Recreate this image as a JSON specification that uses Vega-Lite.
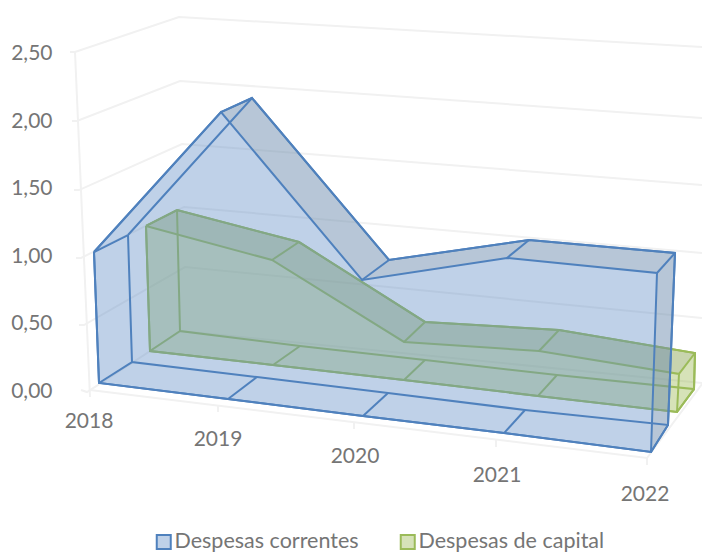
{"$schema":"https://vega.github.io/schema/vega-lite/v6.json","width":632,"height":554,"autosize":{"type":"none"},"padding":{"left":70,"top":0,"right":0,"bottom":0},"background":"white","config":{"view":{"stroke":null},"font":"Lato"},
"datasets":{
"points":[
{"id":"BFT0","x":2018.0,"y":1.022},{"id":"BFT1","x":2019.016,"y":2.059},{"id":"BFT2","x":2020.144,"y":0.815},{"id":"BFT3","x":2021.304,"y":0.978},{"id":"BFT4","x":2022.504,"y":0.867},
{"id":"BFB0","x":2018.04,"y":0.052},{"id":"BFB1","x":2019.072,"y":-0.067},{"id":"BFB2","x":2020.152,"y":-0.193},{"id":"BFB3","x":2021.28,"y":-0.319},{"id":"BFB4","x":2022.456,"y":-0.459},
{"id":"BBT0","x":2018.272,"y":1.148},{"id":"BBT1","x":2019.264,"y":2.163},{"id":"BBT2","x":2020.36,"y":0.963},{"id":"BBT3","x":2021.48,"y":1.111},{"id":"BBT4","x":2022.648,"y":1.015},
{"id":"BBB0","x":2018.304,"y":0.207},{"id":"BBB1","x":2019.304,"y":0.096},{"id":"BBB2","x":2020.352,"y":-0.022},{"id":"BBB3","x":2021.448,"y":-0.148},{"id":"BBB4","x":2022.592,"y":-0.259},
{"id":"GFT0","x":2018.416,"y":1.215},{"id":"GFT1","x":2019.424,"y":0.963},{"id":"GFT2","x":2020.48,"y":0.356},{"id":"GFT3","x":2021.56,"y":0.289},{"id":"GFT4","x":2022.68,"y":0.119},
{"id":"GFB0","x":2018.448,"y":0.289},{"id":"GFB1","x":2019.432,"y":0.185},{"id":"GFB2","x":2020.48,"y":0.074},{"id":"GFB3","x":2021.552,"y":-0.044},{"id":"GFB4","x":2022.664,"y":-0.163},
{"id":"GBT0","x":2018.664,"y":1.333},{"id":"GBT1","x":2019.64,"y":1.096},{"id":"GBT2","x":2020.648,"y":0.504},{"id":"GBT3","x":2021.72,"y":0.444},{"id":"GBT4","x":2022.808,"y":0.274},
{"id":"GBB0","x":2018.688,"y":0.437},{"id":"GBB1","x":2019.648,"y":0.326},{"id":"GBB2","x":2020.648,"y":0.222},{"id":"GBB3","x":2021.704,"y":0.111},{"id":"GBB4","x":2022.8,"y":0.007}
],
"grid":[
{"path":"g25","i":0,"x":2017.808,"y":2.504},{"path":"g25","i":1,"x":2017.848,"y":2.504},{"path":"g25","i":2,"x":2018.68,"y":2.763},{"path":"g25","i":3,"x":2022.864,"y":2.541},
{"path":"g20","i":0,"x":2017.824,"y":1.993},{"path":"g20","i":1,"x":2017.864,"y":1.993},{"path":"g20","i":2,"x":2018.688,"y":2.289},{"path":"g20","i":3,"x":2022.864,"y":2.015},
{"path":"g15","i":0,"x":2017.84,"y":1.481},{"path":"g15","i":1,"x":2017.88,"y":1.481},{"path":"g15","i":2,"x":2018.704,"y":1.822},{"path":"g15","i":3,"x":2022.864,"y":1.519},
{"path":"g10","i":0,"x":2017.856,"y":0.978},{"path":"g10","i":1,"x":2017.896,"y":0.978},{"path":"g10","i":2,"x":2018.72,"y":1.356},{"path":"g10","i":3,"x":2022.864,"y":1.015},
{"path":"g05","i":0,"x":2017.88,"y":0.481},{"path":"g05","i":1,"x":2017.92,"y":0.481},{"path":"g05","i":2,"x":2018.728,"y":0.911},{"path":"g05","i":3,"x":2022.864,"y":0.533},
{"path":"g00","i":0,"x":2017.896,"y":0.0},{"path":"g00","i":1,"x":2017.944,"y":-0.015},{"path":"g00","i":2,"x":2018.696,"y":0.437},{"path":"g00","i":3,"x":2022.864,"y":0.052},
{"path":"wall","i":0,"x":2017.848,"y":2.504},{"path":"wall","i":1,"x":2017.968,"y":-0.052},
{"path":"floor","i":0,"x":2017.968,"y":0.0},{"path":"floor","i":1,"x":2022.424,"y":-0.504},{"path":"floor","i":2,"x":2022.864,"y":0.044},
{"path":"t19","i":0,"x":2018.992,"y":-0.111},{"path":"t19","i":1,"x":2018.992,"y":-0.163},
{"path":"t20","i":0,"x":2020.08,"y":-0.237},{"path":"t20","i":1,"x":2020.08,"y":-0.289},
{"path":"t21","i":0,"x":2021.216,"y":-0.37},{"path":"t21","i":1,"x":2021.216,"y":-0.422},
{"path":"t22","i":0,"x":2022.424,"y":-0.504},{"path":"t22","i":1,"x":2022.424,"y":-0.556}
],
"years":[
{"label":"2018","x":2017.96,"y":-0.24},{"label":"2019","x":2018.992,"y":-0.37},{"label":"2020","x":2020.088,"y":-0.496},{"label":"2021","x":2021.224,"y":-0.637},{"label":"2022","x":2022.408,"y":-0.778}
],
"paths":[
{"series":"Despesas de capital","kind":"sil","path":"gs","i":0,"id":"GFT0"},{"series":"Despesas de capital","kind":"sil","path":"gs","i":1,"id":"GBT0"},{"series":"Despesas de capital","kind":"sil","path":"gs","i":2,"id":"GBT1"},{"series":"Despesas de capital","kind":"sil","path":"gs","i":3,"id":"GBT2"},{"series":"Despesas de capital","kind":"sil","path":"gs","i":4,"id":"GBT3"},{"series":"Despesas de capital","kind":"sil","path":"gs","i":5,"id":"GBT4"},{"series":"Despesas de capital","kind":"sil","path":"gs","i":6,"id":"GBB4"},{"series":"Despesas de capital","kind":"sil","path":"gs","i":7,"id":"GFB4"},{"series":"Despesas de capital","kind":"sil","path":"gs","i":8,"id":"GFB3"},{"series":"Despesas de capital","kind":"sil","path":"gs","i":9,"id":"GFB2"},{"series":"Despesas de capital","kind":"sil","path":"gs","i":10,"id":"GFB1"},{"series":"Despesas de capital","kind":"sil","path":"gs","i":11,"id":"GFB0"},{"series":"Despesas de capital","kind":"sil","path":"gs","i":12,"id":"GFT0"},
{"series":"G","kind":"shade","path":"g1","i":0,"id":"GFT0"},{"series":"G","kind":"shade","path":"g1","i":1,"id":"GBT0"},{"series":"G","kind":"shade","path":"g1","i":2,"id":"GBT1"},{"series":"G","kind":"shade","path":"g1","i":3,"id":"GFT1"},
{"series":"G","kind":"shade","path":"g2","i":0,"id":"GFT1"},{"series":"G","kind":"shade","path":"g2","i":1,"id":"GBT1"},{"series":"G","kind":"shade","path":"g2","i":2,"id":"GBT2"},{"series":"G","kind":"shade","path":"g2","i":3,"id":"GFT2"},
{"series":"G","kind":"shade","path":"g3","i":0,"id":"GFT2"},{"series":"G","kind":"shade","path":"g3","i":1,"id":"GBT2"},{"series":"G","kind":"shade","path":"g3","i":2,"id":"GBT3"},{"series":"G","kind":"shade","path":"g3","i":3,"id":"GFT3"},
{"series":"G","kind":"shade","path":"g4","i":0,"id":"GFT3"},{"series":"G","kind":"shade","path":"g4","i":1,"id":"GBT3"},{"series":"G","kind":"shade","path":"g4","i":2,"id":"GBT4"},{"series":"G","kind":"shade","path":"g4","i":3,"id":"GFT4"},
{"series":"G","kind":"edge","path":"gf","i":0,"id":"GFT0"},{"series":"G","kind":"edge","path":"gf","i":1,"id":"GFT1"},{"series":"G","kind":"edge","path":"gf","i":2,"id":"GFT2"},{"series":"G","kind":"edge","path":"gf","i":3,"id":"GFT3"},{"series":"G","kind":"edge","path":"gf","i":4,"id":"GFT4"},{"series":"G","kind":"edge","path":"gf","i":5,"id":"GFB4"},{"series":"G","kind":"edge","path":"gf","i":6,"id":"GFB3"},{"series":"G","kind":"edge","path":"gf","i":7,"id":"GFB2"},{"series":"G","kind":"edge","path":"gf","i":8,"id":"GFB1"},{"series":"G","kind":"edge","path":"gf","i":9,"id":"GFB0"},{"series":"G","kind":"edge","path":"gf","i":10,"id":"GFT0"},
{"series":"G","kind":"edge","path":"gb","i":0,"id":"GBT0"},{"series":"G","kind":"edge","path":"gb","i":1,"id":"GBT1"},{"series":"G","kind":"edge","path":"gb","i":2,"id":"GBT2"},{"series":"G","kind":"edge","path":"gb","i":3,"id":"GBT3"},{"series":"G","kind":"edge","path":"gb","i":4,"id":"GBT4"},{"series":"G","kind":"edge","path":"gb","i":5,"id":"GBB4"},{"series":"G","kind":"edge","path":"gb","i":6,"id":"GBB3"},{"series":"G","kind":"edge","path":"gb","i":7,"id":"GBB2"},{"series":"G","kind":"edge","path":"gb","i":8,"id":"GBB1"},{"series":"G","kind":"edge","path":"gb","i":9,"id":"GBB0"},{"series":"G","kind":"edge","path":"gb","i":10,"id":"GBT0"},
{"series":"G","kind":"edge","path":"gt0","i":0,"id":"GFT0"},{"series":"G","kind":"edge","path":"gt0","i":1,"id":"GBT0"},{"series":"G","kind":"edge","path":"gt1","i":0,"id":"GFT1"},{"series":"G","kind":"edge","path":"gt1","i":1,"id":"GBT1"},{"series":"G","kind":"edge","path":"gt2","i":0,"id":"GFT2"},{"series":"G","kind":"edge","path":"gt2","i":1,"id":"GBT2"},{"series":"G","kind":"edge","path":"gt3","i":0,"id":"GFT3"},{"series":"G","kind":"edge","path":"gt3","i":1,"id":"GBT3"},{"series":"G","kind":"edge","path":"gt4","i":0,"id":"GFT4"},{"series":"G","kind":"edge","path":"gt4","i":1,"id":"GBT4"},
{"series":"G","kind":"edge","path":"gu0","i":0,"id":"GFB0"},{"series":"G","kind":"edge","path":"gu0","i":1,"id":"GBB0"},{"series":"G","kind":"edge","path":"gu1","i":0,"id":"GFB1"},{"series":"G","kind":"edge","path":"gu1","i":1,"id":"GBB1"},{"series":"G","kind":"edge","path":"gu2","i":0,"id":"GFB2"},{"series":"G","kind":"edge","path":"gu2","i":1,"id":"GBB2"},{"series":"G","kind":"edge","path":"gu3","i":0,"id":"GFB3"},{"series":"G","kind":"edge","path":"gu3","i":1,"id":"GBB3"},{"series":"G","kind":"edge","path":"gu4","i":0,"id":"GFB4"},{"series":"G","kind":"edge","path":"gu4","i":1,"id":"GBB4"},
{"series":"Despesas correntes","kind":"sil","path":"bs","i":0,"id":"BFT0"},{"series":"Despesas correntes","kind":"sil","path":"bs","i":1,"id":"BFT1"},{"series":"Despesas correntes","kind":"sil","path":"bs","i":2,"id":"BBT1"},{"series":"Despesas correntes","kind":"sil","path":"bs","i":3,"id":"BBT2"},{"series":"Despesas correntes","kind":"sil","path":"bs","i":4,"id":"BBT3"},{"series":"Despesas correntes","kind":"sil","path":"bs","i":5,"id":"BBT4"},{"series":"Despesas correntes","kind":"sil","path":"bs","i":6,"id":"BBB4"},{"series":"Despesas correntes","kind":"sil","path":"bs","i":7,"id":"BFB4"},{"series":"Despesas correntes","kind":"sil","path":"bs","i":8,"id":"BFB3"},{"series":"Despesas correntes","kind":"sil","path":"bs","i":9,"id":"BFB2"},{"series":"Despesas correntes","kind":"sil","path":"bs","i":10,"id":"BFB1"},{"series":"Despesas correntes","kind":"sil","path":"bs","i":11,"id":"BFB0"},{"series":"Despesas correntes","kind":"sil","path":"bs","i":12,"id":"BFT0"},
{"series":"B","kind":"shade","path":"b2","i":0,"id":"BFT1"},{"series":"B","kind":"shade","path":"b2","i":1,"id":"BBT1"},{"series":"B","kind":"shade","path":"b2","i":2,"id":"BBT2"},{"series":"B","kind":"shade","path":"b2","i":3,"id":"BFT2"},
{"series":"B","kind":"shade","path":"b3","i":0,"id":"BFT2"},{"series":"B","kind":"shade","path":"b3","i":1,"id":"BBT2"},{"series":"B","kind":"shade","path":"b3","i":2,"id":"BBT3"},{"series":"B","kind":"shade","path":"b3","i":3,"id":"BFT3"},
{"series":"B","kind":"shade","path":"b4","i":0,"id":"BFT3"},{"series":"B","kind":"shade","path":"b4","i":1,"id":"BBT3"},{"series":"B","kind":"shade","path":"b4","i":2,"id":"BBT4"},{"series":"B","kind":"shade","path":"b4","i":3,"id":"BFT4"},
{"series":"B","kind":"shade","path":"b5","i":0,"id":"BFT4"},{"series":"B","kind":"shade","path":"b5","i":1,"id":"BBT4"},{"series":"B","kind":"shade","path":"b5","i":2,"id":"BBB4"},{"series":"B","kind":"shade","path":"b5","i":3,"id":"BFB4"},
{"series":"B","kind":"edge","path":"bf","i":0,"id":"BFT0"},{"series":"B","kind":"edge","path":"bf","i":1,"id":"BFT1"},{"series":"B","kind":"edge","path":"bf","i":2,"id":"BFT2"},{"series":"B","kind":"edge","path":"bf","i":3,"id":"BFT3"},{"series":"B","kind":"edge","path":"bf","i":4,"id":"BFT4"},{"series":"B","kind":"edge","path":"bf","i":5,"id":"BFB4"},{"series":"B","kind":"edge","path":"bf","i":6,"id":"BFB3"},{"series":"B","kind":"edge","path":"bf","i":7,"id":"BFB2"},{"series":"B","kind":"edge","path":"bf","i":8,"id":"BFB1"},{"series":"B","kind":"edge","path":"bf","i":9,"id":"BFB0"},{"series":"B","kind":"edge","path":"bf","i":10,"id":"BFT0"},
{"series":"B","kind":"edge","path":"bb","i":0,"id":"BBT0"},{"series":"B","kind":"edge","path":"bb","i":1,"id":"BBT1"},{"series":"B","kind":"edge","path":"bb","i":2,"id":"BBT2"},{"series":"B","kind":"edge","path":"bb","i":3,"id":"BBT3"},{"series":"B","kind":"edge","path":"bb","i":4,"id":"BBT4"},{"series":"B","kind":"edge","path":"bb","i":5,"id":"BBB4"},{"series":"B","kind":"edge","path":"bb","i":6,"id":"BBB3"},{"series":"B","kind":"edge","path":"bb","i":7,"id":"BBB2"},{"series":"B","kind":"edge","path":"bb","i":8,"id":"BBB1"},{"series":"B","kind":"edge","path":"bb","i":9,"id":"BBB0"},{"series":"B","kind":"edge","path":"bb","i":10,"id":"BBT0"},
{"series":"B","kind":"edge","path":"bt0","i":0,"id":"BFT0"},{"series":"B","kind":"edge","path":"bt0","i":1,"id":"BBT0"},{"series":"B","kind":"edge","path":"bt1","i":0,"id":"BFT1"},{"series":"B","kind":"edge","path":"bt1","i":1,"id":"BBT1"},{"series":"B","kind":"edge","path":"bt2","i":0,"id":"BFT2"},{"series":"B","kind":"edge","path":"bt2","i":1,"id":"BBT2"},{"series":"B","kind":"edge","path":"bt3","i":0,"id":"BFT3"},{"series":"B","kind":"edge","path":"bt3","i":1,"id":"BBT3"},{"series":"B","kind":"edge","path":"bt4","i":0,"id":"BFT4"},{"series":"B","kind":"edge","path":"bt4","i":1,"id":"BBT4"},
{"series":"B","kind":"edge","path":"bu0","i":0,"id":"BFB0"},{"series":"B","kind":"edge","path":"bu0","i":1,"id":"BBB0"},{"series":"B","kind":"edge","path":"bu1","i":0,"id":"BFB1"},{"series":"B","kind":"edge","path":"bu1","i":1,"id":"BBB1"},{"series":"B","kind":"edge","path":"bu2","i":0,"id":"BFB2"},{"series":"B","kind":"edge","path":"bu2","i":1,"id":"BBB2"},{"series":"B","kind":"edge","path":"bu3","i":0,"id":"BFB3"},{"series":"B","kind":"edge","path":"bu3","i":1,"id":"BBB3"},{"series":"B","kind":"edge","path":"bu4","i":0,"id":"BFB4"},{"series":"B","kind":"edge","path":"bu4","i":1,"id":"BBB4"}
]},
"encoding":{
"x":{"field":"x","type":"quantitative","scale":{"domain":[2017.808,2022.864],"nice":false,"zero":false},"axis":null},
"y":{"field":"y","type":"quantitative","scale":{"domain":[-1.2148,2.8889],"nice":false,"zero":false},"axis":{"values":[0,0.5,1,1.5,2,2.5],"title":null,"domain":false,"ticks":false,"grid":false,"labelFont":"Lato","labelFontSize":21,"labelColor":"#757575","labelPadding":18,"labelOffset":1,"labelExpr":"replace(format(datum.value,'.2f'),'.',',')"}}
},
"layer":[
{"data":{"name":"grid"},"mark":{"type":"line","stroke":"#f1f1f1","strokeWidth":2},"encoding":{"detail":{"field":"path"},"order":{"field":"i"}}},
{"data":{"name":"paths"},"transform":[{"filter":"datum.series==='Despesas de capital'"},{"lookup":"id","from":{"data":{"name":"points"},"key":"id","fields":["x","y"]}}],"mark":{"type":"line","strokeWidth":2},"encoding":{"detail":{"field":"path"},"order":{"field":"i"},"fill":{"field":"series","type":"nominal","scale":{"domain":["Despesas correntes","Despesas de capital"],"range":["rgba(95,140,197,0.4)","rgba(152,182,78,0.4)"]},"legend":{"title":null,"orient":"none","legendX":83,"legendY":531,"direction":"horizontal","symbolType":"square","symbolSize":196,"symbolStrokeWidth":2,"labelFont":"Lato","labelFontSize":21.5,"labelColor":"#757575","labelOffset":0,"labelLimit":300,"columnPadding":37,"padding":0}},"stroke":{"field":"series","type":"nominal","scale":{"domain":["Despesas correntes","Despesas de capital"],"range":["#4f81bd","#9bbb59"]}}}},
{"data":{"name":"paths"},"transform":[{"filter":"datum.series==='G'&&datum.kind==='shade'"},{"lookup":"id","from":{"data":{"name":"points"},"key":"id","fields":["x","y"]}}],"mark":{"type":"line","fill":"#7a7f70","fillOpacity":0.14,"strokeWidth":0},"encoding":{"detail":{"field":"path"},"order":{"field":"i"}}},
{"data":{"name":"paths"},"transform":[{"filter":"datum.series==='G'&&datum.kind==='edge'"},{"lookup":"id","from":{"data":{"name":"points"},"key":"id","fields":["x","y"]}}],"mark":{"type":"line","stroke":"#9bbb59","strokeWidth":2},"encoding":{"detail":{"field":"path"},"order":{"field":"i"}}},
{"data":{"name":"paths"},"transform":[{"filter":"datum.series==='Despesas correntes'"},{"lookup":"id","from":{"data":{"name":"points"},"key":"id","fields":["x","y"]}}],"mark":{"type":"line","strokeWidth":2},"encoding":{"detail":{"field":"path"},"order":{"field":"i"},"fill":{"field":"series","type":"nominal","scale":{"domain":["Despesas correntes","Despesas de capital"],"range":["rgba(95,140,197,0.4)","rgba(152,182,78,0.4)"]},"legend":{"title":null,"orient":"none","legendX":83,"legendY":531,"direction":"horizontal","symbolType":"square","symbolSize":196,"symbolStrokeWidth":2,"labelFont":"Lato","labelFontSize":21.5,"labelColor":"#757575","labelOffset":0,"labelLimit":300,"columnPadding":37,"padding":0}},"stroke":{"field":"series","type":"nominal","scale":{"domain":["Despesas correntes","Despesas de capital"],"range":["#4f81bd","#9bbb59"]}}}},
{"data":{"name":"paths"},"transform":[{"filter":"datum.series==='B'&&datum.kind==='shade'"},{"lookup":"id","from":{"data":{"name":"points"},"key":"id","fields":["x","y"]}}],"mark":{"type":"line","fill":"#8f8a78","fillOpacity":0.15,"strokeWidth":0},"encoding":{"detail":{"field":"path"},"order":{"field":"i"}}},
{"data":{"name":"paths"},"transform":[{"filter":"datum.series==='B'&&datum.kind==='edge'"},{"lookup":"id","from":{"data":{"name":"points"},"key":"id","fields":["x","y"]}}],"mark":{"type":"line","stroke":"#4f81bd","strokeWidth":2},"encoding":{"detail":{"field":"path"},"order":{"field":"i"}}},
{"data":{"name":"years"},"mark":{"type":"text","font":"Lato","fontSize":21,"fill":"#757575","align":"center","baseline":"middle"},"encoding":{"text":{"field":"label"}}}
]}
